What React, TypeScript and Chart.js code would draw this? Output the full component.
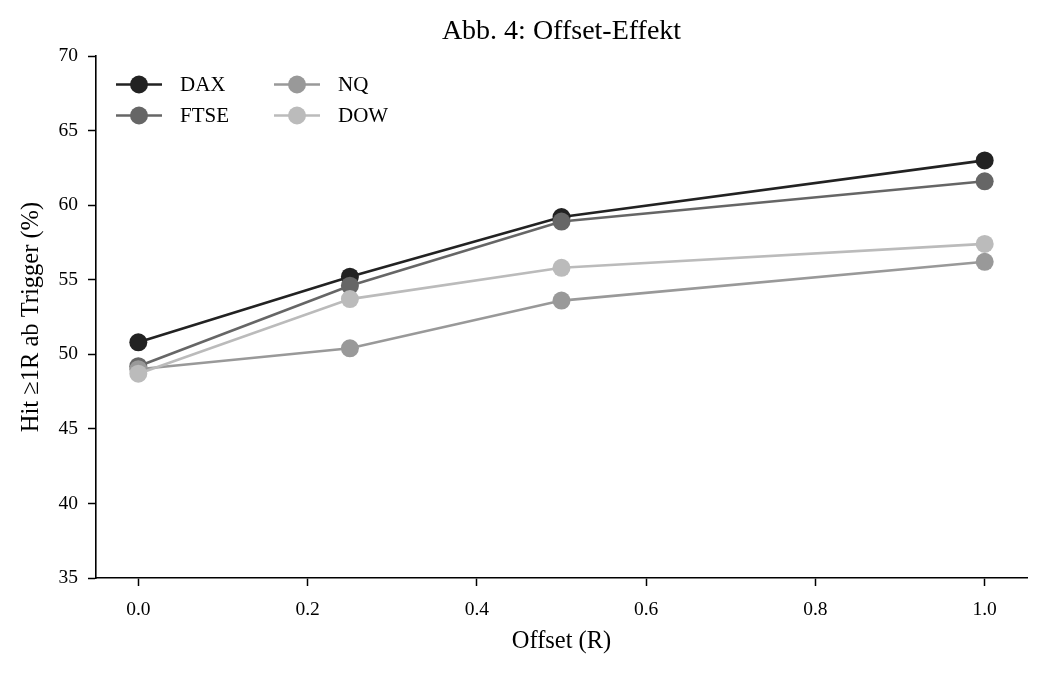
import React, { useEffect, useRef } from "react";
import { Chart, registerables } from "chart.js";

Chart.register(...registerables);

// Offsets (in R) at which the hit rate was measured
const offsets = [0.0, 0.25, 0.5, 1.0];

// Hit rate >= 1R after trigger, in percent, per market
const daxValues = [50.8, 55.2, 59.2, 63.0];
const ftseValues = [49.2, 54.6, 58.9, 61.6];
const nqValues = [49.0, 50.4, 53.6, 56.2];
const dowValues = [48.7, 53.7, 55.8, 57.4];

const seriesNames = ["DAX", "FTSE", "NQ", "DOW"];
const seriesColors = ["#222222", "#666666", "#999999", "#bbbbbb"];

const xTicks = [0.0, 0.2, 0.4, 0.6, 0.8, 1.0];
const yTicks = [35, 40, 45, 50, 55, 60, 65, 70];

const titleText = "Abb. 4: Offset-Effekt";
const xTitle = "Offset (R)";
const yTitle = "Hit \u22651R ab Trigger (%)";

const FONT = "'Liberation Serif', 'Times New Roman', serif";

// Title centred over the plot area
const titlePlugin = {
  id: "plotTitle",
  afterDraw(chart: any) {
    const { ctx, chartArea } = chart;
    ctx.save();
    ctx.fillStyle = "#000";
    ctx.font = `28px ${FONT}`;
    ctx.textAlign = "center";
    ctx.textBaseline = "middle";
    ctx.fillText(titleText, (chartArea.left + chartArea.right) / 2, 32);
    ctx.restore();
  },
};

// Two-column legend in the upper-left corner of the plot
const legendPlugin = {
  id: "gridLegend",
  afterDraw(chart: any) {
    const { ctx, chartArea } = chart;
    const datasets = chart.data.datasets;
    ctx.save();
    ctx.font = `21px ${FONT}`;
    ctx.textBaseline = "middle";
    ctx.textAlign = "left";
    datasets.forEach((ds: any, i: number) => {
      const col = Math.floor(i / 2);
      const row = i % 2;
      const x0 = chartArea.left + 20 + col * 158;
      const y = chartArea.top + 28.5 + row * 31;
      ctx.strokeStyle = ds.borderColor;
      ctx.lineWidth = 2.5;
      ctx.beginPath();
      ctx.moveTo(x0, y);
      ctx.lineTo(x0 + 46, y);
      ctx.stroke();
      ctx.fillStyle = ds.borderColor;
      ctx.beginPath();
      ctx.arc(x0 + 23, y, 9, 0, Math.PI * 2);
      ctx.fill();
      ctx.fillStyle = "#000";
      ctx.fillText(ds.label, x0 + 64, y + 1);
    });
    ctx.restore();
  },
};

export default function App() {
  const canvasRef = useRef<HTMLCanvasElement | null>(null);

  useEffect(() => {
    if (!canvasRef.current) return;
    const allValues = [daxValues, ftseValues, nqValues, dowValues];
    const datasets = allValues.map((vals, i) => ({
      label: seriesNames[i],
      data: offsets.map((x, j) => ({ x, y: vals[j] })),
      borderColor: seriesColors[i],
      backgroundColor: seriesColors[i],
      pointBackgroundColor: seriesColors[i],
      pointBorderWidth: 0,
      pointRadius: 9,
      borderWidth: 2.6,
      order: allValues.length - i,
      tension: 0,
    }));

    const chart = new Chart(canvasRef.current, {
      type: "line",
      data: { datasets },
      options: {
        animation: false,
        responsive: false,
        maintainAspectRatio: false,
        layout: { padding: { left: 0, right: 19, top: 56, bottom: 0 } },
        plugins: {
          legend: { display: false },
          tooltip: { enabled: false },
          title: { display: false },
        },
        scales: {
          x: {
            type: "linear",
            min: -0.05,
            max: 1.05,
            afterBuildTicks: (s: any) => {
              s.ticks = xTicks.map((v) => ({ value: v }));
            },
            afterFit: (s: any) => {
              s.height = 96;
            },
            ticks: {
              color: "#000",
              font: { family: FONT, size: 19.5 },
              padding: 12,
              callback: (v: any) => Number(v).toFixed(1),
              maxRotation: 0,
            },
            grid: {
              drawOnChartArea: false,
              drawTicks: true,
              tickLength: 8,
              tickColor: "#000",
              tickWidth: 1.5,
            },
            border: { display: true, color: "#000", width: 1.6 },
            title: {
              display: true,
              text: xTitle,
              color: "#000",
              font: { family: FONT, size: 24.5 },
              padding: { top: 0, bottom: 18 },
            },
          },
          y: {
            type: "linear",
            min: 35,
            max: 70,
            afterBuildTicks: (s: any) => {
              s.ticks = yTicks.map((v) => ({ value: v }));
            },
            afterFit: (s: any) => {
              s.width = 96;
            },
            ticks: {
              color: "#000",
              font: { family: FONT, size: 19.5 },
              padding: 10,
            },
            grid: {
              drawOnChartArea: false,
              drawTicks: true,
              tickLength: 8,
              tickColor: "#000",
              tickWidth: 1.5,
            },
            border: { display: true, color: "#000", width: 1.6 },
            title: {
              display: true,
              text: yTitle,
              color: "#000",
              font: { family: FONT, size: 24.5 },
              padding: { top: 17, bottom: 0 },
            },
          },
        },
      },
      plugins: [titlePlugin, legendPlugin],
    });

    return () => chart.destroy();
  }, []);

  return (
    <div style={{ position: "absolute", left: 0, top: 0, width: 1046, height: 674, background: "#fff" }}>
      <canvas ref={canvasRef} width={1046} height={674} style={{ display: "block" }} />
    </div>
  );
}
